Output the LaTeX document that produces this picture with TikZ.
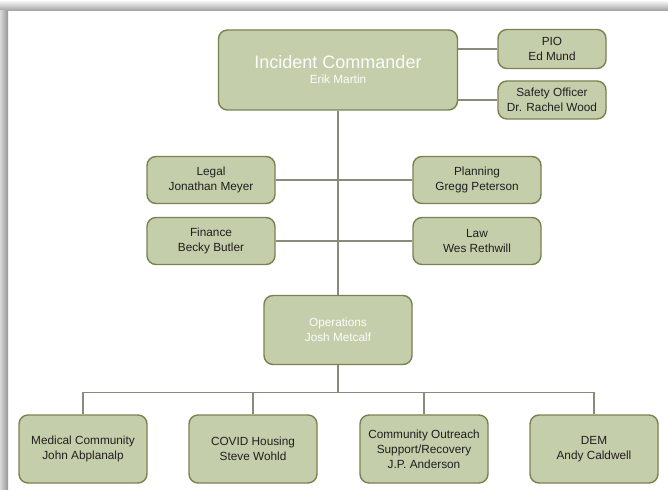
\documentclass[tikz,border=0pt]{standalone}
\usepackage{fontspec}
\setmainfont{Liberation Sans}
\usetikzlibrary{positioning}

\definecolor{sage}{RGB}{197,206,170}
\definecolor{olivedark}{RGB}{122,130,82}
\definecolor{linkgray}{RGB}{138,138,122}

\begin{document}
\begin{tikzpicture}[x=1pt,y=-1pt,
	box/.style={draw=olivedark, fill=sage, line width=1.4pt, rounded corners=9pt,
		align=center, inner sep=2pt, minimum width=128pt, minimum height=47pt,
		font=\fontsize{11.8}{15}\selectfont, text=black!88},
	lead/.style={box, text=white!95!sage},
	link/.style={draw=linkgray, line width=1.3pt}]
	\useasboundingbox (0,0) rectangle (668,489);
	\fill[white] (0,0) rectangle (668,489);
	% shadow of the frame
	\shade[top color=white, bottom color=black!38] (0,0) rectangle (668,11);
	\shade[left color=black!15, right color=black!42] (0,11) rectangle (8,489);
	
	\node[lead, minimum width=239pt, minimum height=80pt] (ic) at (338,70)
		{{\fontsize{18}{21}\selectfont Incident Commander}\\Erik Martin};
	\node[box, minimum width=108pt, minimum height=39pt] (pio) at (552,49) {PIO\\Ed Mund};
	\node[box, minimum width=108pt, minimum height=38pt] (safety) at (552,100) {Safety Officer\\Dr. Rachel Wood};
	
	\node[box] (legal) at (211,180) {Legal\\Jonathan Meyer};
	\node[box] (planning) at (477,180) {Planning\\Gregg Peterson};
	\node[box] (finance) at (211,241) {Finance\\Becky Butler};
	\node[box] (law) at (477,241) {Law\\Wes Rethwill};
	
	\node[lead, minimum width=148pt, minimum height=69pt] (ops) at (338,330) {Operations\\Josh Metcalf};
	
	\node[box, minimum height=68pt] (medical) at (83,449) {Medical Community\\John Abplanalp};
	\node[box, minimum height=68pt] (housing) at (253,449) {COVID Housing\\Steve Wohld};
	\node[box, minimum height=68pt] (outreach) at (424,449) {Community Outreach\\Support/Recovery\\J.P. Anderson};
	\node[box, minimum height=68pt] (dem) at (594,449) {DEM\\Andy Caldwell};
	
	% connectors
	\draw[link] (pio.west) -- (pio.west -| ic.east);
	\draw[link] (safety.west) -- (safety.west -| ic.east);
	\draw[link] (ic.south) -- (ops.north);
	\draw[link] (legal.east) -- (planning.west);
	\draw[link] (finance.east) -- (law.west);
	\draw[link] (ops.south) -- ++(0,27) coordinate (bus);
	\draw[link] (medical.north) |- (bus) -| (dem.north);
	\draw[link] (housing.north) |- (bus);
	\draw[link] (outreach.north) |- (bus);
\end{tikzpicture}
\end{document}
